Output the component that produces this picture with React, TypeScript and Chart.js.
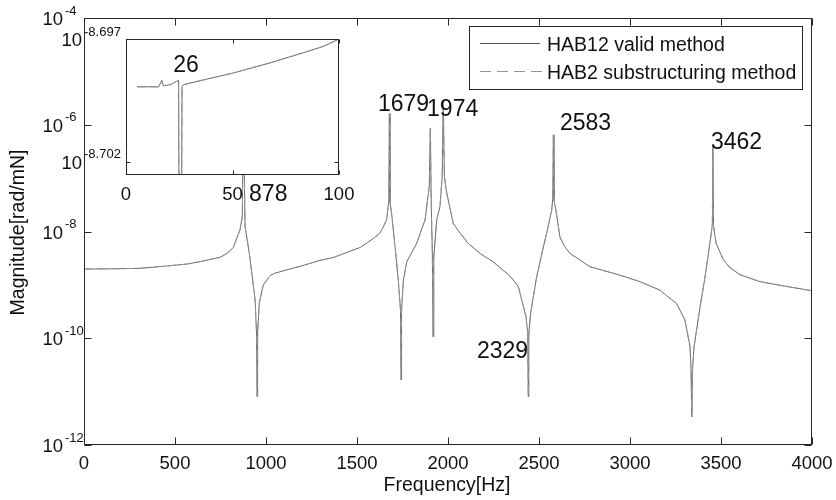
import { useEffect, useRef } from 'react';
import { Chart, registerables } from 'chart.js';

Chart.register(...registerables);

const FONT = '"Liberation Sans", Arial, Helvetica, sans-serif';

// ---- main frequency response (Hz, rad/mN) ----
const freqHz = [
  0, 150, 308, 454, 564, 637, 747, 790, 820, 857, 870, 875, 885, 908, 927, 940, 948, 951, 954, 963, 985,
  1022, 1050, 1114, 1200, 1297, 1369, 1407, 1516, 1553, 1590, 1626, 1645, 1663, 1675, 1678, 1681, 1690, 1709, 1727, 1739, 1742, 1745, 1755,
  1773, 1800, 1828, 1874, 1897, 1903, 1908, 1914, 1918, 1922, 1938, 1956, 1968, 1974, 1980, 1993, 2010, 2029, 2060, 2110, 2180, 2249,
  2300, 2330, 2359, 2386, 2405, 2429, 2438, 2441, 2444, 2454, 2487, 2520, 2542, 2570, 2576, 2579, 2582, 2593, 2615, 2640, 2670, 2780, 2936,
  3055, 3165, 3200, 3256, 3302, 3330, 3336, 3339, 3342, 3352, 3385, 3410, 3431, 3449, 3452, 3455, 3459, 3473, 3513, 3550, 3604, 3714, 3861, 4000,
];
const magValid = [
  1.98e-9, 2.0e-9, 2.04e-9, 2.26e-9, 2.45e-9, 2.72e-9, 3.28e-9, 3.98e-9, 5.01e-9, 1.07e-8, 1.905e-8, 2.51e-6, 1.23e-8, 3.98e-9, 1.23e-9, 5.25e-10, 1.26e-10, 8.13e-12, 1.26e-10, 4.57e-10, 1.0e-9,
  1.48e-9, 1.66e-9, 1.91e-9, 2.29e-9, 2.88e-9, 3.24e-9, 3.63e-9, 5.01e-9, 6.03e-9, 7.41e-9, 9.33e-9, 1.23e-8, 1.66e-8, 3.89e-8, 1.62e-6, 3.55e-8, 2.19e-8, 5.25e-9, 1.23e-9, 3.39e-10, 1.66e-11, 3.39e-10, 1.23e-9,
  2.69e-9, 3.98e-9, 6.03e-9, 1.66e-8, 6.92e-8, 8.51e-7, 3.16e-8, 3.98e-9, 1.07e-10, 3.39e-9, 1.66e-8, 2.95e-8, 1.07e-7, 2.88e-6, 1.07e-7, 5.25e-8, 2.82e-8, 1.41e-8, 1.0e-8, 6.03e-9, 3.8e-9, 2.69e-9,
  1.91e-9, 1.58e-9, 1.23e-9, 9.33e-10, 5.25e-10, 2.51e-10, 1.23e-10, 8.13e-12, 1.23e-10, 2.95e-10, 1.41e-9, 4.47e-9, 9.33e-9, 2.51e-8, 4.47e-8, 6.46e-7, 3.98e-8, 2.51e-8, 7.94e-9, 5.25e-9, 3.89e-9, 2.19e-9, 1.55e-9,
  1.15e-9, 7.94e-10, 6.31e-10, 4.47e-10, 2.19e-10, 6.92e-11, 2.19e-11, 3.39e-12, 2.19e-11, 6.92e-11, 3.89e-10, 1.26e-9, 3.89e-9, 1.07e-8, 1.41e-8, 3.89e-7, 1.26e-8, 6.03e-9, 2.95e-9, 2.09e-9, 1.55e-9, 1.15e-9, 9.33e-10, 7.76e-10,
];
// the two methods coincide at this scale
const magSubstructuring = magValid;

const xTickValues = [0, 500, 1000, 1500, 2000, 2500, 3000, 3500, 4000];
const yTickExponents = [-4, -6, -8, -10, -12];

const seriesNames = ['HAB12 valid method', 'HAB2 substructuring method'];

const peakLabels = ['878', '1679', '1974', '2583', '3462', '2329'];
const peakLabelHz = [907, 1615, 1885, 2615, 3445, 2159];
const peakLabelMag = [4.83e-8, 2.34e-6, 1.89e-6, 1.03e-6, 4.55e-7, 5.52e-11];

// ---- inset: 0-100 Hz zoom ----
const insetFreq = [5.2, 10, 15.3, 16.8, 17.5, 20.8, 22.3, 24.7, 25.1, 25.9, 26.3, 27, 36.4, 50.4, 67.6, 83.2, 92.6, 100];
const insetMagValid = [
  2.0001e-9, 2.0001e-9, 2.0001e-9, 2.0013e-9, 2.0003e-9, 2.0005e-9, 2.0008e-9, 2.0013e-9, 1.95e-9, 1.95e-9,
  2.0001e-9, 2.0005e-9, 2.0014e-9, 2.0027e-9, 2.0046e-9, 2.0065e-9, 2.0077e-9, 2.0091e-9,
];
const insetMagSubstructuring = insetMagValid;
const insetXTicks = [0, 50, 100];
const insetYTickExponents = ['-8.697', '-8.702'];
const insetYTickValues = [2.0091e-9, 1.9861e-9];
const insetYMin = 1.9836e-9;
const insetYMax = 2.0091e-9;
const insetLabel = '26';
const insetLabelHz = 22.2;
const insetLabelMag = 2.004e-9;

const SOLID = '#6a6a6a';
const DASHED = '#949494';
const AXIS = '#262626';

function seg(ctx: CanvasRenderingContext2D, x1: number, y1: number, x2: number, y2: number) {
  ctx.beginPath();
  ctx.moveTo(x1, y1);
  ctx.lineTo(x2, y2);
  ctx.stroke();
}

function drawPow(ctx: CanvasRenderingContext2D, xRight: number, y: number, exp: string, base: number, sup: number) {
  ctx.fillStyle = '#111';
  ctx.font = `${base}px ${FONT}`;
  ctx.textAlign = 'right';
  ctx.textBaseline = 'middle';
  ctx.fillText('10', xRight, y + 2);
  ctx.font = `${sup}px ${FONT}`;
  ctx.textAlign = 'left';
  ctx.fillText(exp, xRight + 2, y - 7);
}

const mainDecor = {
  id: 'mainDecor',
  afterDraw(chart: any) {
    const { ctx, chartArea: a, scales } = chart;
    const xs = scales.x;
    const ys = scales.y;
    ctx.save();
    ctx.strokeStyle = AXIS;
    ctx.lineWidth = 1;
    const L = Math.round(a.left) + 0.5;
    const R = Math.round(a.right) - 0.5;
    const T = Math.round(a.top) + 0.5;
    const B = Math.round(a.bottom) - 0.5;
    ctx.strokeRect(L, T, R - L, B - T);
    xTickValues.forEach((v) => {
      const px = Math.round(xs.getPixelForValue(v)) + 0.5;
      seg(ctx, px, B, px, B - 7);
      seg(ctx, px, T, px, T + 7);
    });
    yTickExponents.forEach((e) => {
      const py = Math.round(ys.getPixelForValue(Math.pow(10, e))) + 0.5;
      seg(ctx, L, py, L + 7, py);
      seg(ctx, R, py, R - 7, py);
    });
    ctx.fillStyle = '#111';
    ctx.font = `18.5px ${FONT}`;
    ctx.textAlign = 'center';
    ctx.textBaseline = 'middle';
    xTickValues.forEach((v) => {
      ctx.fillText(String(v), xs.getPixelForValue(v), a.bottom + 18.5);
    });
    yTickExponents.forEach((e) => {
      drawPow(ctx, a.left - 21, ys.getPixelForValue(Math.pow(10, e)), String(e), 18.5, 13);
    });
    ctx.fillStyle = '#111';
    ctx.font = `19.5px ${FONT}`;
    ctx.textAlign = 'center';
    ctx.textBaseline = 'middle';
    ctx.fillText('Frequency[Hz]', (a.left + a.right) / 2 - 1, a.bottom + 41);
    ctx.save();
    ctx.translate(19, (a.top + a.bottom) / 2 + 1);
    ctx.rotate(-Math.PI / 2);
    ctx.fillText('Magnitude[rad/mN]', 0, 0);
    ctx.restore();
    ctx.font = `23px ${FONT}`;
    ctx.textAlign = 'left';
    peakLabels.forEach((t, i) => {
      ctx.fillText(t, xs.getPixelForValue(peakLabelHz[i]), ys.getPixelForValue(peakLabelMag[i]));
    });
    const lx = 469.5, ly = 26.5, lw = 333, lh = 63;
    ctx.fillStyle = '#fff';
    ctx.fillRect(lx, ly, lw, lh);
    ctx.strokeStyle = AXIS;
    ctx.strokeRect(lx, ly, lw, lh);
    ctx.strokeStyle = '#555';
    seg(ctx, 480, 43.5, 540, 43.5);
    ctx.strokeStyle = DASHED;
    ctx.setLineDash([11, 6]);
    seg(ctx, 480, 71.5, 542, 71.5);
    ctx.setLineDash([]);
    ctx.fillStyle = '#111';
    ctx.font = `19.5px ${FONT}`;
    ctx.textBaseline = 'middle';
    ctx.fillText(seriesNames[0], 547, 45.5);
    ctx.fillText(seriesNames[1], 547, 73.5);
    ctx.restore();
  },
};

const insetDecor = {
  id: 'insetDecor',
  beforeDraw(chart: any) {
    const { ctx, chartArea: a } = chart;
    ctx.save();
    ctx.fillStyle = '#fff';
    ctx.fillRect(a.left, a.top, a.right - a.left, a.bottom - a.top);
    ctx.restore();
  },
  afterDraw(chart: any) {
    const { ctx, chartArea: a, scales } = chart;
    const xs = scales.x;
    const ys = scales.y;
    ctx.save();
    ctx.strokeStyle = AXIS;
    ctx.lineWidth = 1;
    const L = Math.round(a.left) + 0.5;
    const R = Math.round(a.right) - 0.5;
    const T = Math.round(a.top) + 0.5;
    const B = Math.round(a.bottom) - 0.5;
    ctx.strokeRect(L, T, R - L, B - T);
    insetXTicks.forEach((v) => {
      const px = Math.round(xs.getPixelForValue(v)) + 0.5;
      seg(ctx, px, B, px, B - 4);
      seg(ctx, px, T, px, T + 4);
    });
    insetYTickValues.forEach((v) => {
      const py = Math.round(ys.getPixelForValue(v)) + 0.5;
      seg(ctx, L, py, L + 4, py);
      seg(ctx, R, py, R - 4, py);
    });
    ctx.fillStyle = '#111';
    ctx.font = `18.5px ${FONT}`;
    ctx.textAlign = 'center';
    ctx.textBaseline = 'middle';
    insetXTicks.forEach((v) => {
      ctx.fillText(String(v), xs.getPixelForValue(v), a.bottom + 20);
    });
    insetYTickValues.forEach((v, i) => {
      drawPow(ctx, a.left - 44, ys.getPixelForValue(v), insetYTickExponents[i], 18.5, 13);
    });
    ctx.fillStyle = '#111';
    ctx.font = `23px ${FONT}`;
    ctx.textAlign = 'left';
    ctx.textBaseline = 'middle';
    ctx.fillText(insetLabel, xs.getPixelForValue(insetLabelHz), ys.getPixelForValue(insetLabelMag));
    ctx.restore();
  },
};

function pts(xs: number[], ys: number[]) {
  return xs.map((x, i) => ({ x, y: ys[i] }));
}

function lineSets(x: number[], solid: number[], dashed: number[]) {
  return [
    {
      label: seriesNames[1],
      data: pts(x, dashed),
      borderColor: DASHED,
      borderWidth: 1,
      borderDash: [8, 6],
      pointRadius: 0,
      tension: 0,
      order: 1,
    },
    {
      label: seriesNames[0],
      data: pts(x, solid),
      borderColor: SOLID,
      borderWidth: 1,
      pointRadius: 0,
      tension: 0,
      order: 2,
    },
  ];
}

export default function App() {
  const mainRef = useRef<HTMLCanvasElement>(null);
  const insetRef = useRef<HTMLCanvasElement>(null);

  useEffect(() => {
    const main = new Chart(mainRef.current as HTMLCanvasElement, {
      type: 'line',
      data: { datasets: lineSets(freqHz, magValid, magSubstructuring) },
      options: {
        animation: false,
        responsive: false,
        devicePixelRatio: 1,
        layout: { padding: { left: 84, top: 18, right: 24, bottom: 55 } },
        plugins: { legend: { display: false }, tooltip: { enabled: false } },
        scales: {
          x: { type: 'linear', min: 0, max: 4000, display: false },
          y: { type: 'logarithmic', min: 1e-12, max: 1e-4, display: false },
        },
      },
      plugins: [mainDecor],
    } as any);

    const inset = new Chart(insetRef.current as HTMLCanvasElement, {
      type: 'line',
      data: { datasets: lineSets(insetFreq, insetMagValid, insetMagSubstructuring) },
      options: {
        animation: false,
        responsive: false,
        devicePixelRatio: 1,
        layout: { padding: { left: 86, top: 14, right: 31, bottom: 40 } },
        plugins: { legend: { display: false }, tooltip: { enabled: false } },
        scales: {
          x: { type: 'linear', min: 0, max: 100, display: false },
          y: { type: 'logarithmic', min: insetYMin, max: insetYMax, display: false },
        },
      },
      plugins: [insetDecor],
    } as any);

    return () => {
      main.destroy();
      inset.destroy();
    };
  }, []);

  return (
    <div style={{ position: 'fixed', left: 0, top: 0, width: 836, height: 500, background: '#fff' }}>
      <canvas
        ref={mainRef}
        width={836}
        height={500}
        style={{ position: 'absolute', left: 0, top: 0, width: 836, height: 500 }}
      />
      <canvas
        ref={insetRef}
        width={330}
        height={190}
        style={{ position: 'absolute', left: 40, top: 25, width: 330, height: 190 }}
      />
    </div>
  );
}
